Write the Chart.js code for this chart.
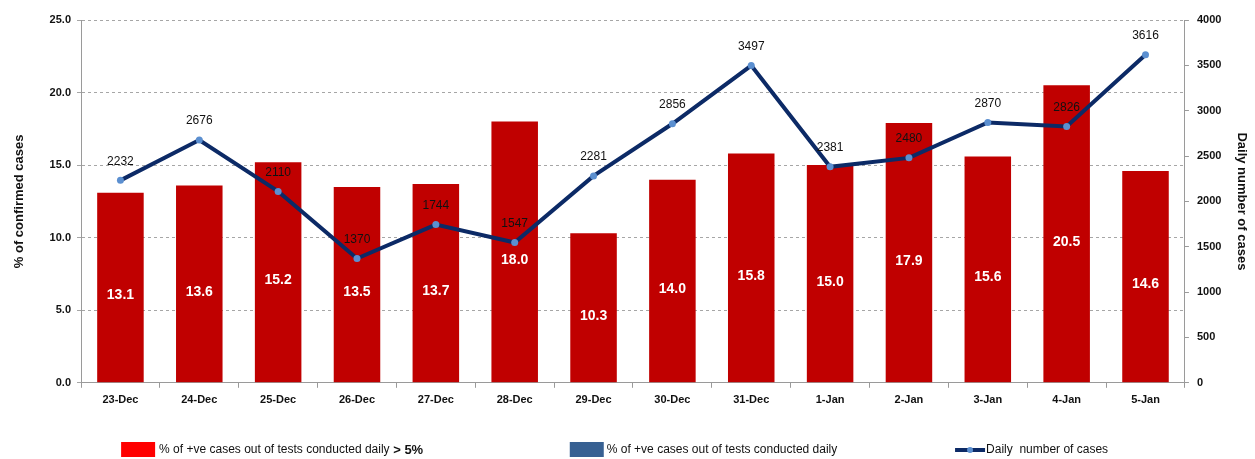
<!DOCTYPE html>
<html>
<head>
<meta charset="utf-8">
<script src="https://cdn.jsdelivr.net/npm/chart.js@4/dist/chart.umd.min.js"></script>
<style>
  html, body { margin: 0; padding: 0; background: #fff; }
  #wrap { width: 1255px; height: 459px; }
</style>
</head>
<body>
<div id="wrap"><canvas id="casesChart"></canvas></div>
<script>
const days = ['23-Dec', '24-Dec', '25-Dec', '26-Dec', '27-Dec', '28-Dec', '29-Dec',
    '30-Dec', '31-Dec', '1-Jan', '2-Jan', '3-Jan', '4-Jan', '5-Jan'];
const positivePct = [13.1, 13.6, 15.2, 13.5, 13.7, 18.0, 10.3, 14.0, 15.8, 15.0, 17.9, 15.6, 20.5, 14.6];
const dailyCases = [2232, 2676, 2110, 1370, 1744, 1547, 2281, 2856, 3497, 2381, 2480, 2870, 2826, 3616];
const legendNames = ['% of +ve cases out of tests conducted daily > 5%',
    '% of +ve cases out of tests conducted daily', 'Daily  number of cases'];

const FONT = '"Liberation Sans", Arial, sans-serif';

// value labels: white inside the bars, black above the line points
const valueLabels = {
    id: 'valueLabels',
    afterDatasetsDraw(chart) {
        const ctx = chart.ctx;
        ctx.save();
        ctx.textAlign = 'center';
        ctx.textBaseline = 'middle';
        chart.getDatasetMeta(0).data.forEach((bar, i) => {
            ctx.fillStyle = '#fff';
            ctx.font = 'bold 14px ' + FONT;
            ctx.fillText(positivePct[i].toFixed(1), bar.x, (bar.y + bar.base) / 2 + 8);
        });
        chart.getDatasetMeta(1).data.forEach((pt, i) => {
            ctx.fillStyle = '#111';
            ctx.font = '12px ' + FONT;
            ctx.fillText(dailyCases[i], pt.x, pt.y - 19);
        });
        ctx.restore();
    }
};

// legend spread across the bottom like the original sheet
const bottomLegend = {
    id: 'bottomLegend',
    afterDraw(chart) {
        const ctx = chart.ctx;
        const w = chart.width;
        const y = chart.height - 9;
        const xs = [w * 0.0965, w * 0.454, w * 0.761];
        ctx.save();
        ctx.font = '12px ' + FONT;
        ctx.textBaseline = 'middle';
        ctx.fillStyle = '#ff0000';
        ctx.fillRect(xs[0], y - 8, 34, 15);
        ctx.fillStyle = '#376092';
        ctx.fillRect(xs[1], y - 8, 34, 15);
        ctx.strokeStyle = '#0c2a66';
        ctx.lineWidth = 4;
        ctx.beginPath();
        ctx.moveTo(xs[2], y);
        ctx.lineTo(xs[2] + 30, y);
        ctx.stroke();
        ctx.fillStyle = '#5b8fd0';
        ctx.beginPath();
        ctx.arc(xs[2] + 15, y, 3, 0, Math.PI * 2);
        ctx.fill();
        ctx.fillStyle = '#111';
        ctx.fillText(legendNames[0].replace(' > 5%', ''), xs[0] + 38, y);
        const wBase = ctx.measureText(legendNames[0].replace(' > 5%', '')).width;
        ctx.font = 'bold 13px ' + FONT;
        ctx.fillText(' > 5%', xs[0] + 38 + wBase, y);
        ctx.font = '12px ' + FONT;
        ctx.fillText(legendNames[1], xs[1] + 37, y);
        ctx.fillText(legendNames[2], xs[2] + 31, y);
        ctx.restore();
    }
};

const casesChart = document.getElementById('casesChart');

new Chart(casesChart, {
    data: {
        labels: days,
        datasets: [{
                type: 'bar',
                label: legendNames[0],
                data: positivePct,
                backgroundColor: '#c00000',
                yAxisID: 'y',
                categoryPercentage: 1,
                barPercentage: 0.59,
                order: 2
            },
            {
                type: 'line',
                label: legendNames[2],
                data: dailyCases,
                borderColor: '#0c2a66',
                backgroundColor: '#5b8fd0',
                borderWidth: 4,
                pointRadius: 3.5,
                pointBorderWidth: 0,
                pointBackgroundColor: '#5b8fd0',
                tension: 0,
                yAxisID: 'y1',
                order: 1
            }
        ]
    },
    options: {
        responsive: true,
        maintainAspectRatio: false,
        animation: false,
        layout: {
            padding: { left: 8, right: 0, top: 20, bottom: 46 }
        },
        plugins: {
            legend: { display: false },
            tooltip: { enabled: false }
        },
        scales: {
            x: {
                offset: true,
                grid: {
                    display: true,
                    drawOnChartArea: false,
                    tickLength: 5,
                    color: '#9a9a9a'
                },
                border: { color: '#9a9a9a' },
                ticks: {
                    color: '#111',
                    font: { family: FONT, size: 11, weight: 'bold' },
                    maxRotation: 0,
                    padding: 6
                }
            },
            y: {
                position: 'left',
                min: 0,
                max: 25,
                ticks: {
                    stepSize: 5,
                    color: '#111',
                    font: { family: FONT, size: 11, weight: 'bold' },
                    callback: v => v.toFixed(1),
                    padding: 6
                },
                grid: {
                    color: '#a6a6a6',
                    tickLength: 4
                },
                border: { color: '#9a9a9a', dash: [3, 3] },
                title: {
                    display: true,
                    text: '% of confirmed cases',
                    color: '#111',
                    font: { family: FONT, size: 13, weight: 'bold' },
                    padding: { bottom: 16 }
                }
            },
            y1: {
                position: 'right',
                min: 0,
                max: 4000,
                ticks: {
                    stepSize: 500,
                    color: '#111',
                    font: { family: FONT, size: 11, weight: 'bold' },
                    callback: v => String(v),
                    padding: 8
                },
                grid: {
                    drawOnChartArea: false,
                    tickLength: 4,
                    color: '#9a9a9a'
                },
                border: { color: '#9a9a9a' },
                title: {
                    display: true,
                    text: 'Daily number of cases',
                    color: '#111',
                    font: { family: FONT, size: 13, weight: 'bold' },
                    padding: { top: 6 }
                }
            }
        }
    },
    plugins: [valueLabels, bottomLegend]
});
</script>
</body>
</html>
